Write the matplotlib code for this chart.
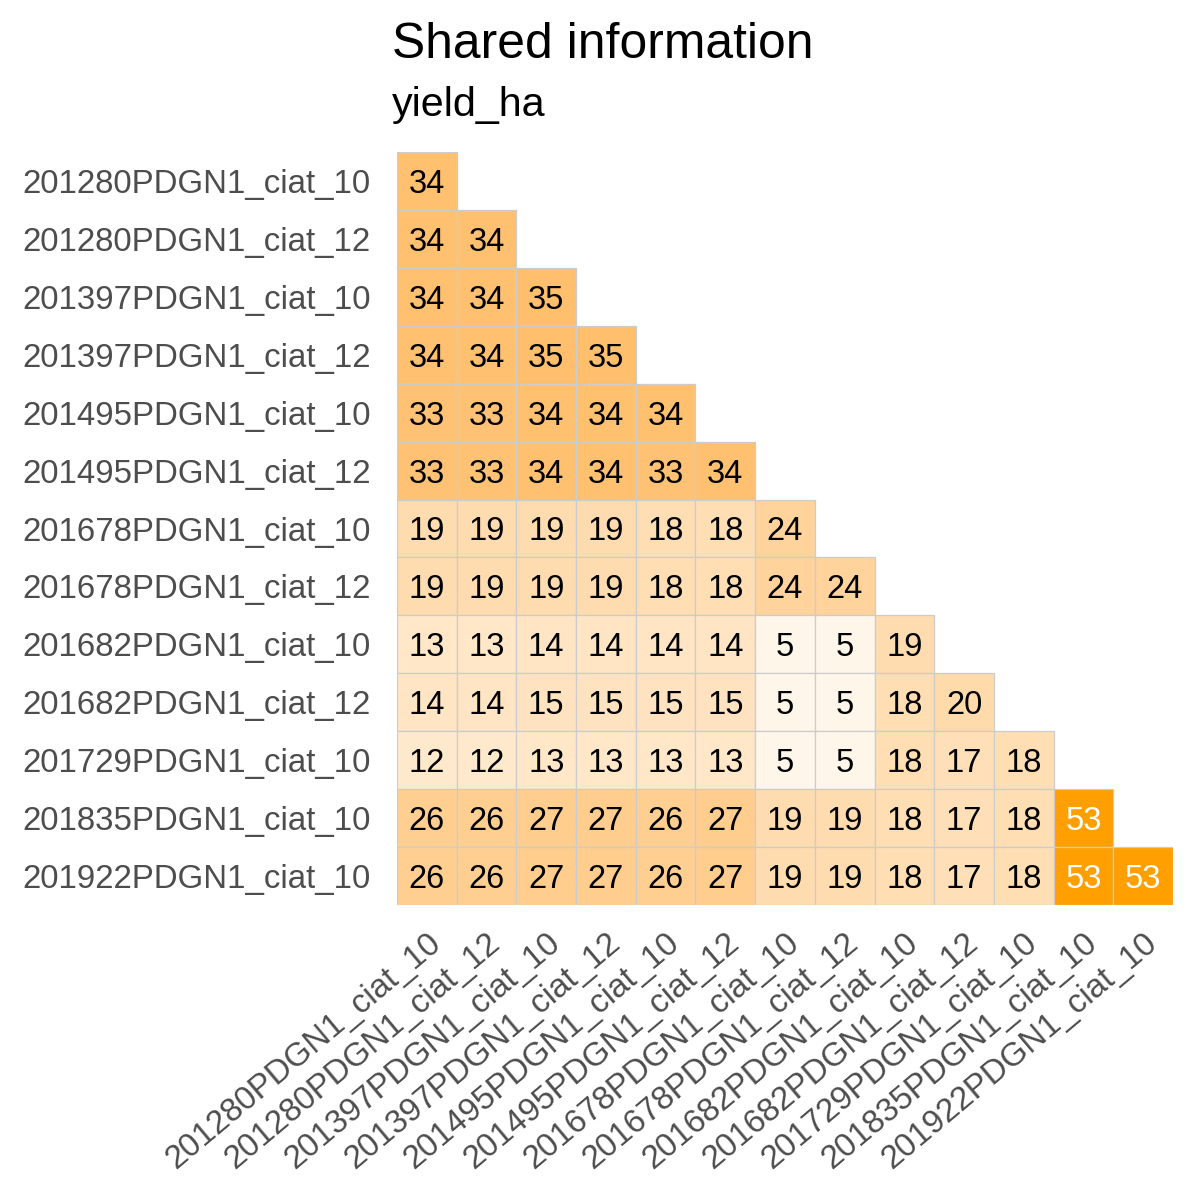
import numpy as np
import matplotlib
matplotlib.use("Agg")
import matplotlib.pyplot as plt
from matplotlib.colors import ListedColormap, Normalize

plt.rcParams['font.family'] = ['Liberation Sans', 'DejaVu Sans']

labels = ["201280PDGN1_ciat_10", "201280PDGN1_ciat_12", "201397PDGN1_ciat_10",
          "201397PDGN1_ciat_12", "201495PDGN1_ciat_10", "201495PDGN1_ciat_12",
          "201678PDGN1_ciat_10", "201678PDGN1_ciat_12", "201682PDGN1_ciat_10",
          "201682PDGN1_ciat_12", "201729PDGN1_ciat_10", "201835PDGN1_ciat_10",
          "201922PDGN1_ciat_10"]

rows = [
    [34],
    [34, 34],
    [34, 34, 35],
    [34, 34, 35, 35],
    [33, 33, 34, 34, 34],
    [33, 33, 34, 34, 33, 34],
    [19, 19, 19, 19, 18, 18, 24],
    [19, 19, 19, 19, 18, 18, 24, 24],
    [13, 13, 14, 14, 14, 14, 5, 5, 19],
    [14, 14, 15, 15, 15, 15, 5, 5, 18, 20],
    [12, 12, 13, 13, 13, 13, 5, 5, 18, 17, 18],
    [26, 26, 27, 27, 26, 27, 19, 19, 18, 17, 18, 53],
    [26, 26, 27, 27, 26, 27, 19, 19, 18, 17, 18, 53, 53],
]

title = "Shared information"
subtitle = "yield_ha"

# --- Lab interpolation colormap white -> orange ---
def srgb_to_lab(rgb):
    rgb = np.asarray(rgb, float)
    lin = np.where(rgb <= 0.04045, rgb / 12.92, ((rgb + 0.055) / 1.055) ** 2.4)
    M = np.array([[0.4124, 0.3576, 0.1805],
                  [0.2126, 0.7152, 0.0722],
                  [0.0193, 0.1192, 0.9505]])
    xyz = M @ lin
    wp = np.array([0.95047, 1.0, 1.08883])
    t = xyz / wp
    f = np.where(t > (6/29)**3, np.cbrt(t), t / (3*(6/29)**2) + 4/29)
    return np.array([116*f[1]-16, 500*(f[0]-f[1]), 200*(f[1]-f[2])])

def lab_to_srgb(lab):
    L, a, b = lab
    fy = (L + 16) / 116
    fx = fy + a / 500
    fz = fy - b / 200
    def finv(f):
        return f**3 if f > 6/29 else 3*(6/29)**2*(f - 4/29)
    wp = np.array([0.95047, 1.0, 1.08883])
    xyz = np.array([finv(fx), finv(fy), finv(fz)]) * wp
    Minv = np.array([[3.2406, -1.5372, -0.4986],
                     [-0.9689, 1.8758, 0.0415],
                     [0.0557, -0.2040, 1.0570]])
    lin = Minv @ xyz
    lin = np.clip(lin, 0, 1)
    rgb = np.where(lin <= 0.0031308, 12.92*lin, 1.055*lin**(1/2.4) - 0.055)
    return np.clip(rgb, 0, 1)

lo = srgb_to_lab([1, 1, 1])
hi = srgb_to_lab([1.0, 0x9F/255, 0.0])
cols = [lab_to_srgb(lo + (hi - lo) * t) for t in np.linspace(0, 1, 256)]
cmap = ListedColormap(cols)

n = len(labels)
vmax = max(max(r) for r in rows)
norm = Normalize(vmin=0, vmax=vmax)

fig = plt.figure(figsize=(12, 12), dpi=100)
ax = fig.add_axes([397/1200, 1 - 905/1200, (1173-397)/1200, (905-152)/1200])

for i, r in enumerate(rows):
    for j, v in enumerate(r):
        ax.add_patch(plt.Rectangle((j - 0.5, i - 0.5), 1, 1,
                                   facecolor=cmap(norm(v)), edgecolor='#CCCCCC',
                                   linewidth=0.9))
        ax.text(j, i, str(v), ha='center', va='center_baseline', fontsize=23.5,
                color='white' if v > 45 else 'black')

ax.set_xlim(-0.5, n - 0.5)
ax.set_ylim(n - 0.5, -0.5)
ax.set_xticks(range(n))
ax.set_yticks(range(n))
ax.set_xticklabels(labels, rotation=40, ha='right', va='top',
                   rotation_mode='anchor', fontsize=23.8, color='#4D4D4D')
ax.set_yticklabels(labels, fontsize=23.8, color='#4D4D4D')
ax.tick_params(length=0)
ax.tick_params(axis='y', pad=19)
ax.tick_params(axis='x', pad=16)
for s in ax.spines.values():
    s.set_visible(False)

fig.text(392/1200, 1 - 58/1200, title, fontsize=35.8, ha='left', va='baseline')
fig.text(392/1200, 1 - 116/1200, subtitle, fontsize=29.7, ha='left', va='baseline')

fig.savefig("out.png", dpi=100, facecolor='white')
